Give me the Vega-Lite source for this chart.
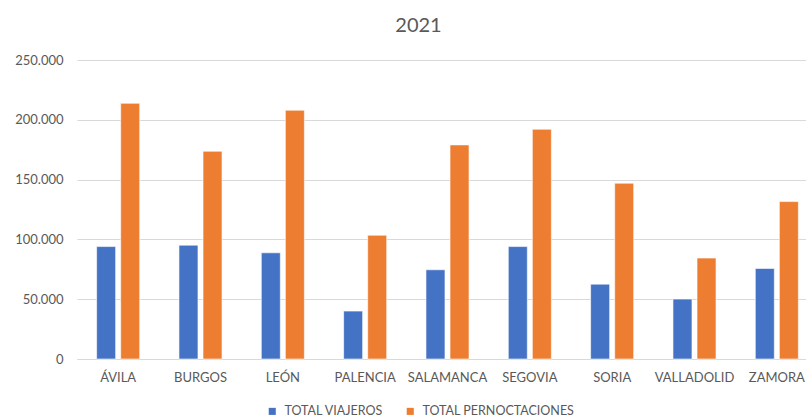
{
  "$schema": "https://vega.github.io/schema/vega-lite/v6.json",
  "autosize": {"type": "none"},
  "width": 741,
  "height": 299,
  "padding": {"left": 77, "top": 60, "right": 0, "bottom": 60},
  "background": "#ffffff",
  "title": {"text": "2021", "fontSize": 20, "font": "Lato", "fontWeight": "normal", "color": "#595959", "offset": 18, "dx": -29, "anchor": "middle"},
  "config": {
    "locale": {"number": {"decimal": ",", "thousands": ".", "grouping": [3], "currency": ["", " €"]}},
    "view": {"stroke": null},
    "font": "Lato"
  },
  "data": {"values": [
    {"prov": "ÁVILA", "serie": "TOTAL VIAJEROS", "valor": 94000},
    {"prov": "ÁVILA", "serie": "TOTAL PERNOCTACIONES", "valor": 213800},
    {"prov": "BURGOS", "serie": "TOTAL VIAJEROS", "valor": 95200},
    {"prov": "BURGOS", "serie": "TOTAL PERNOCTACIONES", "valor": 173700},
    {"prov": "LEÓN", "serie": "TOTAL VIAJEROS", "valor": 88800},
    {"prov": "LEÓN", "serie": "TOTAL PERNOCTACIONES", "valor": 208000},
    {"prov": "PALENCIA", "serie": "TOTAL VIAJEROS", "valor": 40100},
    {"prov": "PALENCIA", "serie": "TOTAL PERNOCTACIONES", "valor": 103500},
    {"prov": "SALAMANCA", "serie": "TOTAL VIAJEROS", "valor": 74600},
    {"prov": "SALAMANCA", "serie": "TOTAL PERNOCTACIONES", "valor": 179000},
    {"prov": "SEGOVIA", "serie": "TOTAL VIAJEROS", "valor": 94000},
    {"prov": "SEGOVIA", "serie": "TOTAL PERNOCTACIONES", "valor": 192100},
    {"prov": "SORIA", "serie": "TOTAL VIAJEROS", "valor": 62600},
    {"prov": "SORIA", "serie": "TOTAL PERNOCTACIONES", "valor": 147000},
    {"prov": "VALLADOLID", "serie": "TOTAL VIAJEROS", "valor": 50100},
    {"prov": "VALLADOLID", "serie": "TOTAL PERNOCTACIONES", "valor": 84400},
    {"prov": "ZAMORA", "serie": "TOTAL VIAJEROS", "valor": 75700},
    {"prov": "ZAMORA", "serie": "TOTAL PERNOCTACIONES", "valor": 131600}
  ]},
  "mark": {"type": "bar", "stroke": "#ffffff", "strokeWidth": 0.6},
  "encoding": {
    "x": {
      "field": "prov", "type": "nominal",
      "sort": ["ÁVILA", "BURGOS", "LEÓN", "PALENCIA", "SALAMANCA", "SEGOVIA", "SORIA", "VALLADOLID", "ZAMORA"],
      "scale": {"paddingInner": 0.477, "paddingOuter": 0.2385},
      "axis": {"title": null, "labelAngle": 0, "labelFontSize": 13, "labelColor": "#595959", "labelPadding": 12, "ticks": false, "domainColor": "#d9d9d9", "domainWidth": 1}
    },
    "xOffset": {
      "field": "serie", "type": "nominal",
      "sort": ["TOTAL VIAJEROS", "TOTAL PERNOCTACIONES"],
      "scale": {"paddingInner": 0.21, "paddingOuter": 0}
    },
    "y": {
      "field": "valor", "type": "quantitative",
      "scale": {"domain": [0, 250000]},
      "axis": {"title": null, "values": [0, 50000, 100000, 150000, 200000, 250000], "format": ",d", "labelFontSize": 13, "labelColor": "#595959", "labelPadding": 14, "ticks": false, "domain": false, "gridColor": "#d9d9d9", "gridWidth": 1}
    },
    "color": {
      "field": "serie", "type": "nominal",
      "sort": ["TOTAL VIAJEROS", "TOTAL PERNOCTACIONES"],
      "scale": {"domain": ["TOTAL VIAJEROS", "TOTAL PERNOCTACIONES"], "range": ["#4472C4", "#ED7D31"]},
      "legend": {"title": null, "orient": "none", "direction": "horizontal", "legendX": 189, "legendY": 345, "symbolType": "square", "symbolSize": 50, "symbolStrokeWidth": 0, "labelFontSize": 12.5, "labelColor": "#595959", "columnPadding": 20, "labelOffset": 6}
    }
  }
}
